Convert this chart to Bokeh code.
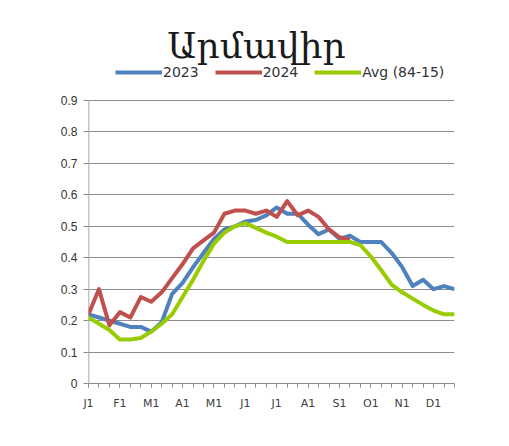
from bokeh.plotting import figure
from bokeh.models import Range1d, FixedTicker, Legend, LegendItem, Label
from bokeh.embed import file_html
from bokeh.resources import INLINE

# ---- data ----
title_text = "Արմավիր"
series_names = ["2023", "2024", "Avg (84-15)"]
month_labels = ["J1", "F1", "M1", "A1", "M1", "J1", "J1", "A1", "S1", "O1", "N1", "D1"]
y_ticks = [0, 0.1, 0.2, 0.3, 0.4, 0.5, 0.6, 0.7, 0.8, 0.9]
y_tick_labels = ["0", "0.1", "0.2", "0.3", "0.4", "0.5", "0.6", "0.7", "0.8", "0.9"]

y2023 = [0.22, 0.21, 0.20, 0.19, 0.18, 0.18, 0.165, 0.195, 0.285, 0.32, 0.37, 0.415,
         0.46, 0.49, 0.50, 0.515, 0.52, 0.535, 0.56, 0.54, 0.54, 0.505, 0.475, 0.49,
         0.46, 0.47, 0.45, 0.45, 0.45, 0.415, 0.37, 0.31, 0.33, 0.30, 0.31, 0.30]
y2024 = [0.22, 0.30, 0.185, 0.227, 0.21, 0.275, 0.26, 0.29, 0.335, 0.38, 0.43, 0.455,
         0.48, 0.54, 0.55, 0.55, 0.54, 0.55, 0.53, 0.58, 0.535, 0.55, 0.53, 0.49,
         0.465, 0.457]
yavg = [0.21, 0.19, 0.17, 0.14, 0.14, 0.145, 0.165, 0.19, 0.22, 0.275, 0.33, 0.39,
        0.445, 0.48, 0.50, 0.51, 0.495, 0.48, 0.467, 0.45, 0.45, 0.45, 0.45, 0.45,
        0.45, 0.45, 0.44, 0.404, 0.36, 0.314, 0.29, 0.27, 0.25, 0.232, 0.22, 0.22]

n = len(y2023)
x_all = list(range(n))
per_month = n // len(month_labels)
major = list(range(0, n, per_month))

GRAY = "#8c8c8c"
TOP = 1.161

p = figure(width=509, height=446, output_backend="svg", toolbar_location=None,
           title=None, x_range=Range1d(0, n - 1), y_range=Range1d(0, TOP),
           min_border_left=88, min_border_right=55, min_border_top=18,
           min_border_bottom=63)
p.outline_line_color = None
p.background_fill_color = "white"
p.border_fill_color = "white"

# grid
p.xgrid.visible = False
p.ygrid.ticker = FixedTicker(ticks=y_ticks)
p.ygrid.grid_line_color = GRAY
p.ygrid.grid_line_width = 1

# y axis
yax = p.yaxis[0]
yax.ticker = FixedTicker(ticks=y_ticks)
yax.major_label_overrides = {t: l for t, l in zip(y_ticks, y_tick_labels)}
yax.axis_line_color = None
yax.major_tick_line_color = GRAY
yax.major_tick_out = 5
yax.major_tick_in = 0
yax.minor_tick_line_color = None
yax.major_label_standoff = 6
yax.major_label_text_font = "Liberation Sans"
yax.major_label_text_font_size = "12px"
yax.major_label_text_color = "#333333"

# y axis line only up to the top tick
p.segment(x0=[0], y0=[y_ticks[0]], x1=[0], y1=[y_ticks[-1]],
          line_color=GRAY, line_width=1.5)

# x axis
xax = p.xaxis[0]
xax.ticker = FixedTicker(ticks=major, minor_ticks=x_all)
xax.major_label_overrides = {t: l for t, l in zip(major, month_labels)}
xax.axis_line_color = GRAY
xax.major_tick_line_color = GRAY
xax.minor_tick_line_color = GRAY
xax.major_tick_out = 4
xax.major_tick_in = 0
xax.minor_tick_out = 4
xax.minor_tick_in = 0
xax.major_label_standoff = 9
xax.major_label_text_font = "DejaVu Sans"
xax.major_label_text_font_size = "11px"
xax.major_label_text_color = "#404040"

# series
r1 = p.line(x_all, y2023, line_color="#4f81bd", line_width=4, line_join="round")
r2 = p.line(x_all[:len(y2024)], y2024, line_color="#c0504d", line_width=4, line_join="round")
r3 = p.line(x_all, yavg, line_color="#99cc00", line_width=4, line_join="round")

legend = Legend(items=[LegendItem(label=series_names[0], renderers=[r1]),
                       LegendItem(label=series_names[1], renderers=[r2]),
                       LegendItem(label=series_names[2], renderers=[r3])],
                orientation="horizontal", location=(27, 303), padding=0, margin=0,
                spacing=16, label_standoff=1, glyph_width=47, glyph_height=16,
                label_height=16, label_text_font="DejaVu Sans",
                label_text_font_size="14px", label_text_color="#333333",
                background_fill_alpha=0, border_line_color=None)
p.add_layout(legend)

title = Label(x=16.07, y=1.075, text=title_text, text_align="center",
              text_baseline="middle", text_font="DejaVu Serif",
              text_font_size="36px", text_color="#1a1a1a")
p.add_layout(title)

open("out.html", "w").write(file_html(p, INLINE))
